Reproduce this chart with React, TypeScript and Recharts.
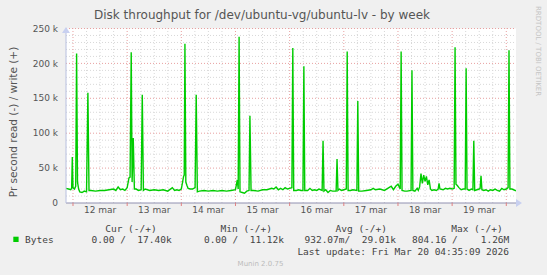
import { LineChart, Line, XAxis, YAxis, CartesianGrid, ReferenceLine } from "recharts";

// hours since 12 mar 00:00, and write throughput in k bytes/s
const hours = [
  -3.1, -2.0, -1.0, -0.6, -0.3, 0.0, 0.6, 1.2, 1.6, 2.0, 2.5, 3.0, 4.0, 5.0, 6.0, 6.6, 7.1, 8, 10, 12, 14, 16, 18, 19, 20, 21, 22, 23,
  24, 24.8, 25.3, 25.8, 26.2, 26.7, 27.2, 28, 29, 30.2, 30.7, 31.2, 32, 34, 36, 38, 40, 42, 44, 45, 46, 47,
  48, 49.0, 49.3, 49.6, 50.0, 50.5, 51, 52, 53, 54.1, 54.6, 55.1, 56, 58, 60, 62, 64, 66, 68, 70,
  72, 72.8, 73.2, 73.6, 74.0, 75, 76, 77, 78.0, 78.4, 78.9, 80, 82, 84, 86, 88, 89, 90, 91, 92, 93, 94, 95,
  96, 97.0, 97.4, 97.8, 99, 100, 101, 101.9, 102.3, 102.7, 104, 105, 106, 107, 108, 109, 110.4, 110.8, 111.2, 112, 113, 114, 115, 116.6, 117.0, 117.4, 118, 119,
  120, 121.1, 121.5, 121.9, 123, 124, 125.8, 126.2, 126.6, 128, 130, 132, 133, 134, 136, 138, 140, 141, 142, 143,
  144, 145.0, 145.4, 145.8, 147, 148, 149.8, 150.2, 150.6, 151.5, 152.5, 153, 153.6, 154.2, 154.8, 155.4, 156, 156.6, 157.2, 157.8, 158.4, 159, 160, 161, 161.8, 162.2, 162.6, 164, 165, 166, 167,
  168, 168.9, 169.3, 169.7, 170.3, 171, 172, 173, 173.8, 174.2, 174.6, 175.5, 176.5, 177.2, 177.6, 178, 179, 180, 180.4, 180.8, 181.2, 182, 183, 184, 185, 186, 187, 188, 189, 190, 191,
  192, 192.8, 193.2, 193.6, 194.5, 196.3,
];
const writeK = [
  21, 20, 19, 21, 66, 22, 20, 24, 214, 30, 20, 16, 15, 17, 16, 158, 18, 18, 17, 18, 18, 19, 20, 18, 23, 19, 20, 18,
  22, 36, 37, 216, 30, 93, 20, 20, 18, 19, 155, 18, 20, 18, 19, 18, 19, 17, 22, 18, 19, 18,
  20, 38, 40, 228, 30, 25, 21, 20, 20, 22, 155, 16, 17, 18, 17, 18, 17, 18, 17, 18,
  19, 33, 20, 238, 16, 15, 14, 17, 18, 125, 18, 18, 17, 19, 19, 21, 20, 23, 19, 21, 19, 22, 20,
  21, 22, 222, 18, 18, 19, 18, 18, 196, 18, 18, 21, 18, 19, 18, 20, 18, 89, 17, 19, 15, 18, 17, 17, 63, 18, 20, 18,
  19, 20, 217, 18, 18, 19, 18, 146, 17, 17, 18, 19, 21, 19, 20, 18, 22, 24, 19, 24,
  27, 20, 217, 18, 17, 17, 18, 190, 18, 17, 21, 18, 23, 42, 28, 40, 31, 38, 26, 33, 20, 18, 19, 18, 20, 28, 20, 19, 21, 20, 21,
  20, 21, 223, 27, 25, 22, 19, 20, 20, 193, 20, 18, 20, 19, 89, 18, 19, 20, 21, 39, 19, 18, 19, 17, 19, 18, 20, 18, 17, 21, 19,
  20, 22, 219, 20, 20, 17.4,
];

const yTicks = [0, 50, 100, 150, 200, 250];
const yMinor = [10, 20, 30, 40, 60, 70, 80, 90, 110, 120, 130, 140, 160, 170, 180, 190, 210, 220, 230, 240];
const midnights = [0, 24, 48, 72, 96, 120, 144, 168, 192];
const sixHours = [6, 12, 18, 30, 36, 42, 54, 60, 66, 78, 84, 90, 102, 108, 114, 126, 132, 138, 150, 156, 162, 174, 180, 186];
const dayLabels = ["12 mar", "13 mar", "14 mar", "15 mar", "16 mar", "17 mar", "18 mar", "19 mar"];

const data = hours.map((h, i) => ({ h, w: writeK[i] }));

const X_DOMAIN: [number, number] = [-3.1, 196.3];
const PLOT_W = 450;
const halfDayPx = (12 * PLOT_W) / (X_DOMAIN[1] - X_DOMAIN[0]);

const mono = "'DejaVu Sans Mono', monospace";
const sans = "'DejaVu Sans', sans-serif";

function DayTick(props: any) {
  const { x, y, index } = props;
  const label = dayLabels[index];
  if (!label) return null;
  return (
    <text x={x + halfDayPx} y={y + 5} textAnchor="middle" fontSize={9} fill="#555" fontFamily={sans}>
      {label}
    </text>
  );
}

export default function App() {
  return (
    <div style={{ position: "absolute", left: 0, top: 0, width: 547, height: 275, background: "#f0f0f0", overflow: "hidden" }}>
      <LineChart width={547} height={275} data={data} margin={{ top: 28.5, right: 31, bottom: 52, left: 0 }}>
        <CartesianGrid fill="#ffffff" horizontal={false} vertical={false} />
        {yMinor.map((v) => (
          <ReferenceLine key={"ym" + v} y={v} stroke="#d8d8d8" strokeDasharray="1 2" />
        ))}
        {sixHours.map((h) => (
          <ReferenceLine key={"xm" + h} x={h} stroke="#d8d8d8" strokeDasharray="1 2" />
        ))}
        {yTicks.filter((v) => v > 0).map((v) => (
          <ReferenceLine key={"yM" + v} y={v} stroke="#e8a0a0" strokeDasharray="1 2" />
        ))}
        {midnights.map((h) => (
          <ReferenceLine key={"xM" + h} x={h} stroke="#e8a0a0" strokeDasharray="1 2" />
        ))}
        <XAxis
          dataKey="h"
          type="number"
          domain={X_DOMAIN}
          ticks={midnights}
          interval={0}
          tick={<DayTick />}
          tickLine={{ stroke: "#e08080" }}
          tickSize={3}
          height={20}
          axisLine={{ stroke: "#9090b0" }}
          allowDataOverflow
        />
        <YAxis
          type="number"
          domain={[0, 250]}
          ticks={yTicks}
          interval={0}
          width={66}
          tickLine={false}
          axisLine={{ stroke: "#b8c0e0" }}
          tick={{ fontSize: 9, fill: "#555", fontFamily: sans }}
          tickFormatter={(v: number) => (v === 0 ? "0" : `${v} k`)}
        />
        <Line type="linear" dataKey="w" stroke="#00cc00" strokeWidth={1.4} dot={false} isAnimationActive={false} />
      </LineChart>
      <svg width={547} height={275} style={{ position: "absolute", left: 0, top: 0, pointerEvents: "none" }}>
        <text x={262} y={19} textAnchor="middle" fontSize={12} fill="#555" fontFamily={sans}>
          Disk throughput for /dev/ubuntu-vg/ubuntu-lv - by week
        </text>
        <text x={13} y={122} textAnchor="middle" dominantBaseline="central" fontSize={10.5} fill="#555" fontFamily={sans} transform="rotate(-90 13 122)">
          Pr second read (-) / write (+)
        </text>
        <text x={538} y={6} fontSize={7} fill="#c4c4c4" fontFamily={sans} transform="rotate(90 538 6)" dominantBaseline="central">
          RRDTOOL / TOBI OETIKER
        </text>
        <polygon points="62,33 66,27 70,33" fill="#c8d0f0" />
        <polygon points="516,199 522,203 516,207" fill="#c8d0f0" />
        <g fontFamily={mono} fontSize={9.5} fill="#444" dominantBaseline="central">
          <text x={156.7} y={228.3} textAnchor="end" xmlSpace="preserve">Cur (-/+)</text>
          <text x={272} y={228.3} textAnchor="end" xmlSpace="preserve">Min (-/+)</text>
          <text x={387} y={228.3} textAnchor="end" xmlSpace="preserve">Avg (-/+)</text>
          <text x={502.7} y={228.3} textAnchor="end" xmlSpace="preserve">Max (-/+)</text>
          <rect x={13.3} y={236.7} width={5.3} height={5.3} fill="#00cc00" />
          <text x={25} y={239.7}>Bytes</text>
          <text x={171.7} y={239.7} textAnchor="end" xmlSpace="preserve">{"0.00 /  17.40k"}</text>
          <text x={284} y={239.7} textAnchor="end" xmlSpace="preserve">{"0.00 /  11.12k"}</text>
          <text x={396} y={239.7} textAnchor="end" xmlSpace="preserve">{"932.07m/  29.01k"}</text>
          <text x={509.3} y={239.7} textAnchor="end" xmlSpace="preserve">{"804.16 /    1.26M"}</text>
          <text x={509} y={251} textAnchor="end" xmlSpace="preserve">{"Last update: Fri Mar 20 04:35:09 2026"}</text>
        </g>
        <text x={260.5} y={264.3} textAnchor="middle" dominantBaseline="central" fontSize={7} fill="#bbb" fontFamily={sans}>
          Munin 2.0.75
        </text>
      </svg>
    </div>
  );
}
